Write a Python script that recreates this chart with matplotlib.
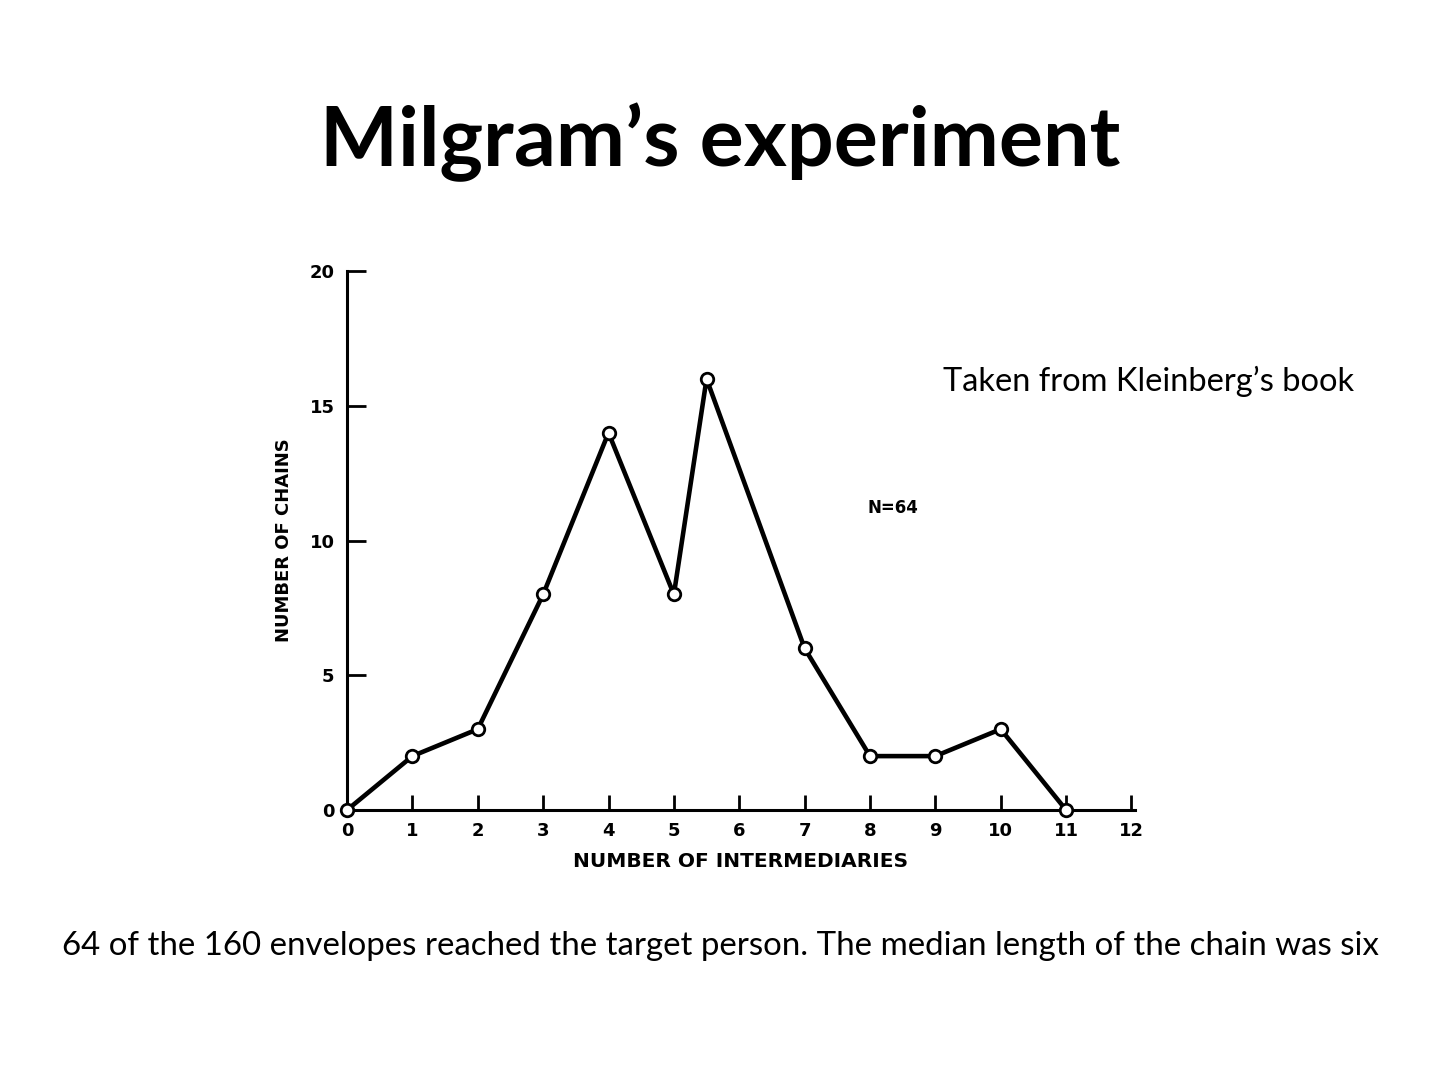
"""
Milgram's experiment slide: number of chains vs number of intermediaries
"""

import matplotlib.pyplot as plt

# -----------------------------------------
# DATA
# -----------------------------------------

intermediaries = [0, 1, 2, 3, 4, 5, 5.5, 7, 8, 9, 10, 11]
chains = [0, 2, 3, 8, 14, 8, 16, 6, 2, 2, 3, 0]

x_ticks = list(range(0, 13))
y_ticks = [0, 5, 10, 15, 20]

TITLE = "Milgram\u2019s experiment"
SOURCE = "Taken from Kleinberg\u2019s book"
CAPTION = "64 of the 160 envelopes reached the target person. The median length of the chain was six"

# -----------------------------------------
# Plot
# -----------------------------------------

fig = plt.figure(figsize=(14.4, 10.8), dpi=100)
fig.patch.set_facecolor("white")

ax = fig.add_axes([0.241, 0.25, 0.547, 0.499])
ax.plot(intermediaries, chains, color="black", lw=3.3,
        marker="o", ms=9, mfc="white", mec="black", mew=2.0, clip_on=False, zorder=3)

ax.set_xlim(0, 12.05)
ax.set_ylim(0, 20)
ax.set_xticks(x_ticks)
ax.set_yticks(y_ticks)
ax.spines["top"].set_visible(False)
ax.spines["right"].set_visible(False)
ax.spines["left"].set_linewidth(2.2)
ax.spines["bottom"].set_linewidth(2.2)
ax.tick_params(axis="x", direction="in", length=11, width=2, pad=9)
ax.tick_params(axis="y", direction="in", length=14, width=2, pad=9)
for lab in ax.get_xticklabels() + ax.get_yticklabels():
    lab.set_fontweight("bold")
    lab.set_fontsize(13)
    lab.set_family("DejaVu Sans")

ax.set_xlabel("NUMBER OF INTERMEDIARIES", fontsize=14.5, fontweight="bold", labelpad=8)
ax.set_ylabel("NUMBER OF CHAINS", fontsize=13, fontweight="bold", labelpad=12)
ax.text(8.35, 11.2, "N=64", fontsize=12, fontweight="bold", ha="center", va="center")

fig.text(0.5, 0.868, TITLE, ha="center", va="center",
         fontsize=59.5, fontweight="bold", family="Lato")
fig.text(0.655, 0.647, SOURCE, ha="left", va="center", fontsize=23.5, family="Lato")
fig.text(0.5, 0.124, CAPTION, ha="center", va="center", fontsize=23.8, family="Lato")

fig.savefig("out.png", dpi=100)
